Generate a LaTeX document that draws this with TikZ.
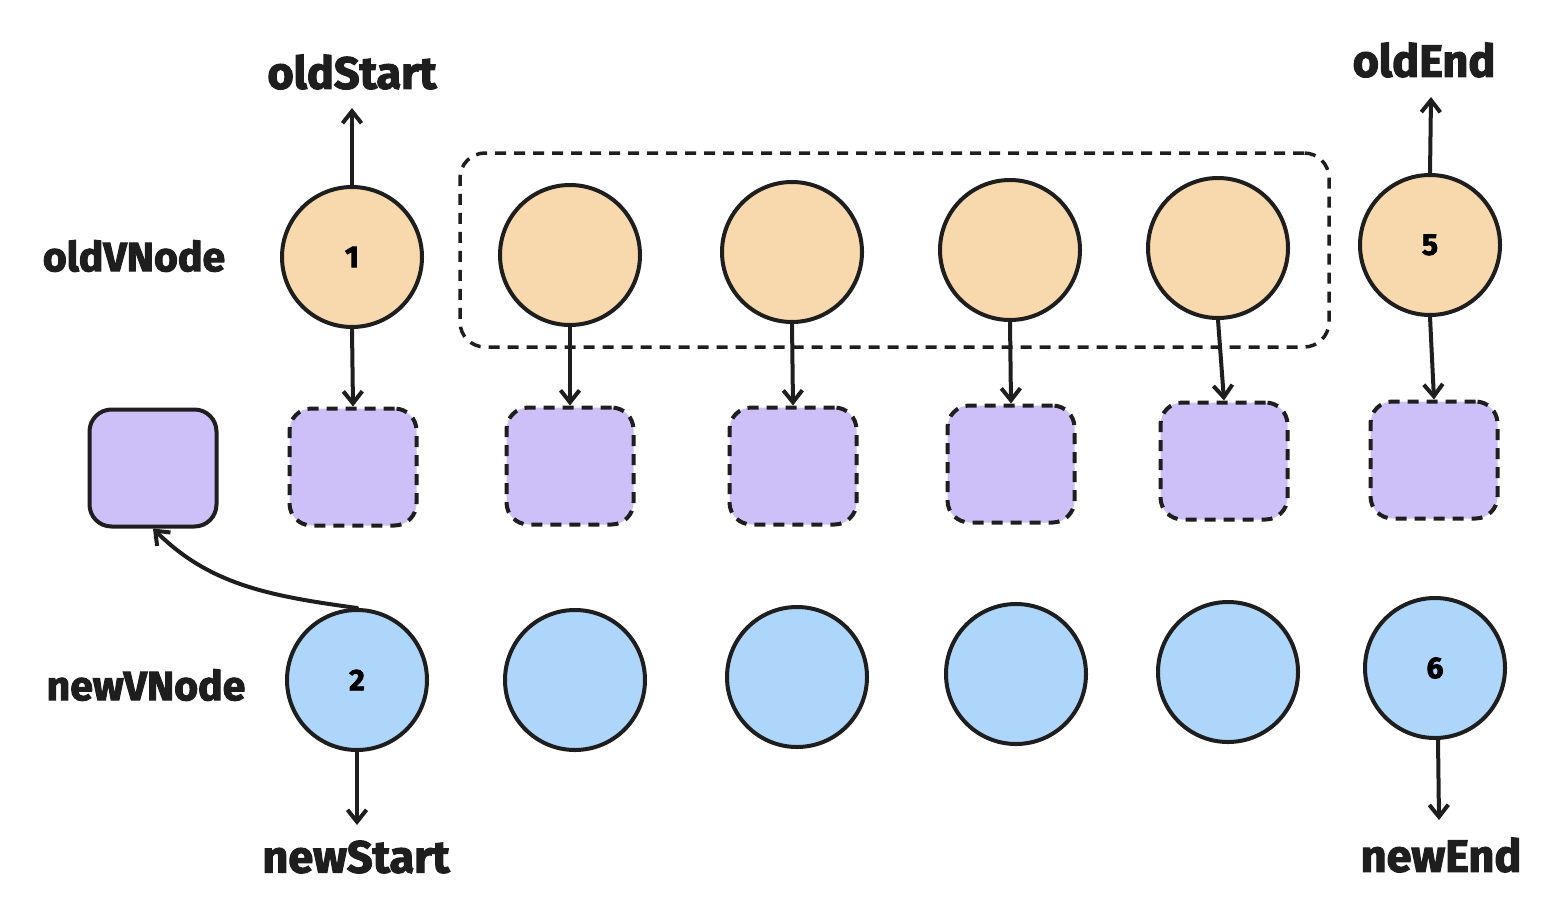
\documentclass[tikz,border=0pt]{standalone}
\usepackage{fontspec}
\setmainfont{Fira Sans}[BoldFeatures={FakeBold=2.5}]
\usetikzlibrary{arrows.meta}
\definecolor{ink}{HTML}{1E1E1E}
\definecolor{oldfill}{HTML}{F8D9AE}
\definecolor{newfill}{HTML}{AED6FA}
\definecolor{boxfill}{HTML}{CDC0F8}
\tikzset{
  oldc/.style={circle, draw=ink, fill=oldfill, line width=4pt, minimum size=140pt, inner sep=0pt, font=\bfseries\fontsize{30}{32}\selectfont},
  newc/.style={circle, draw=ink, fill=newfill, line width=4pt, minimum size=140pt, inner sep=0pt, font=\bfseries\fontsize{30}{32}\selectfont},
  vbox/.style={rectangle, rounded corners=22pt, draw=ink, fill=boxfill, line width=4pt, minimum width=127pt, minimum height=117pt},
  dbox/.style={vbox, dash pattern=on 11pt off 8pt},
  lbl/.style={text=ink, font=\bfseries\fontsize{45}{50}\selectfont, inner sep=0pt},
  rowlbl/.style={lbl, font=\bfseries\fontsize{41}{46}\selectfont},
  arr/.style={draw=ink, line width=4pt, -{Straight Barb[length=12pt,width=19pt,line width=4pt]}, line cap=round}
}
\begin{document}
\begin{tikzpicture}[x=1pt,y=-1pt]
\useasboundingbox (0,0) rectangle (1568,916);
% group frame
\node[draw=ink, line width=3.5pt, dash pattern=on 11pt off 8pt, rounded corners=25pt, minimum width=869pt, minimum height=194pt, inner sep=0pt] (grp) at (894.5,250) {};
% old row
\node[oldc] (o1) at (352,257) {1};
\node[oldc] (o2) at (570,255) {};
\node[oldc] (o3) at (792,252) {};
\node[oldc] (o4) at (1010,250) {};
\node[oldc] (o5) at (1218,248) {};
\node[oldc] (o6) at (1430,245) {5};
% new row
\node[newc] (n1) at (357,680) {2};
\node[newc] (n2) at (575,680) {};
\node[newc] (n3) at (797,677) {};
\node[newc] (n4) at (1016,674) {};
\node[newc] (n5) at (1228,672) {};
\node[newc] (n6) at (1435,668) {6};
% vnode boxes
\node[vbox] (s0) at (153,468) {};
\node[dbox] (s1) at (353,467) {};
\node[dbox] (s2) at (570,466) {};
\node[dbox] (s3) at (793,466) {};
\node[dbox] (s4) at (1011,464) {};
\node[dbox] (s5) at (1224,461) {};
\node[dbox] (s6) at (1434,460) {};
% labels
\node[lbl] (lOS) at (352,72) {oldStart};
\node[lbl] (lOE) at (1424,60) {oldEnd};
\node[rowlbl] (lOV) at (134,256) {oldVNode};
\node[rowlbl] (lNV) at (146,685) {newVNode};
\node[lbl] (lNS) at (356,857) {newStart};
\node[lbl] (lNE) at (1441,855) {newEnd};
\coordinate (aOS) at (352,108);
\coordinate (aOE) at (1431,97);
\coordinate (aNS) at (357,825);
\coordinate (aNE) at (1439,820);
% arrows
\draw[arr] (o1.north) -- (aOS);
\draw[arr] (o6.north) -- (aOE);
\draw[arr] (n1.south) -- (aNS);
\draw[arr] ([xshift=3pt]n6.south) -- (aNE);
\draw[arr] (o1.south) -- (s1.north);
\draw[arr] (o2.south) -- (s2.north);
\draw[arr] (o3.south) -- (s3.north);
\draw[arr] (o4.south) -- (s4.north);
\draw[arr] (o5.south) -- (s5.north);
\draw[arr] (o6.south) -- (s6.north);
\draw[arr] (n1.north) .. controls (270,596) and (210,585) .. (s0.south);
\end{tikzpicture}
\end{document}
